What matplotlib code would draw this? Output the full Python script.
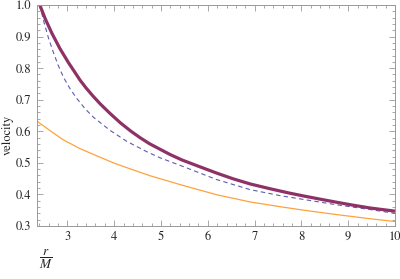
import matplotlib
matplotlib.use('Agg')
import matplotlib.pyplot as plt
from matplotlib.ticker import MultipleLocator

# STIX ships with matplotlib and is Times-like
plt.rcParams['font.family'] = ['STIXGeneral', 'DejaVu Serif']
plt.rcParams['mathtext.fontset'] = 'stix'

# values (r/M, velocity)
r_thick = [2.41, 2.53, 2.67, 2.84, 3.02, 3.15, 3.27, 3.40, 3.55, 3.70, 3.90, 4.13, 4.35, 4.55,
           4.75, 4.98, 5.20, 5.45, 5.84, 6.20, 6.55, 6.91, 7.33, 7.75, 8.05, 8.40, 8.76, 9.10,
           9.47, 10.0]
v_thick = [1.000, 0.955, 0.910, 0.862, 0.818, 0.789, 0.762, 0.737, 0.711, 0.687, 0.658, 0.627,
           0.601, 0.580, 0.561, 0.543, 0.526, 0.509, 0.487, 0.467, 0.449, 0.433, 0.418, 0.404,
           0.395, 0.385, 0.375, 0.366, 0.357, 0.347]

r_dash = [2.41, 2.50, 2.60, 2.70, 2.80, 2.92, 3.06, 3.20, 3.38, 3.56, 3.91, 4.27, 4.70, 4.98,
          5.48, 6.19, 6.91, 7.55, 8.05, 8.76, 9.47, 10.0]
v_dash = [1.000, 0.945, 0.893, 0.850, 0.810, 0.770, 0.734, 0.704, 0.671, 0.644, 0.603, 0.568,
          0.535, 0.516, 0.488, 0.447, 0.415, 0.396, 0.384, 0.367, 0.352, 0.340]

r_thin = [2.35, 2.62, 2.91, 3.27, 3.63, 4.00, 4.34, 4.77, 5.00, 5.48, 6.19, 6.91, 7.55, 8.05,
          8.76, 9.47, 10.0]
v_thin = [0.632, 0.603, 0.573, 0.545, 0.522, 0.499, 0.481, 0.459, 0.449, 0.428, 0.399, 0.376,
          0.361, 0.350, 0.336, 0.323, 0.314]

fig = plt.figure(figsize=(4.0, 2.79), dpi=100)
ax = fig.add_axes([0.0925, 0.19, 0.895, 0.792])

ax.plot(r_thin, v_thin, color='#ffa23c', lw=0.9)
ax.plot(r_dash, v_dash, color='#5c5cae', lw=0.8, dashes=(4, 3))
ax.plot(r_thick, v_thick, color='#8e3166', lw=2.3, solid_capstyle='butt', solid_joinstyle='round')

ax.set_xlim(2.35, 10)
ax.set_ylim(0.3, 1.0)
ax.xaxis.set_major_locator(MultipleLocator(1))
ax.xaxis.set_minor_locator(MultipleLocator(0.2))
ax.yaxis.set_major_locator(MultipleLocator(0.1))
ax.yaxis.set_minor_locator(MultipleLocator(0.02))
ax.yaxis.set_major_formatter(plt.FuncFormatter(lambda v, p: '%.1f' % v))

for s in ax.spines.values():
    s.set_color('#999999')
    s.set_linewidth(0.7)
ax.tick_params(which='both', direction='in', top=True, right=True, color='#999999',
               labelsize=9, labelcolor='#222222', width=0.6, pad=4)
ax.tick_params(which='major', length=4)
ax.tick_params(which='minor', length=2)

fig.text(8 / 400, 1 - 135 / 279, 'velocity', rotation=90, ha='center', va='center',
         fontsize=9, color='#222222')
fig.text(46 / 400, 1 - 259 / 279, r'$\dfrac{r}{M}$', ha='center', va='center',
         fontsize=9.5, color='#222222')

fig.savefig('out.png', dpi=100)
